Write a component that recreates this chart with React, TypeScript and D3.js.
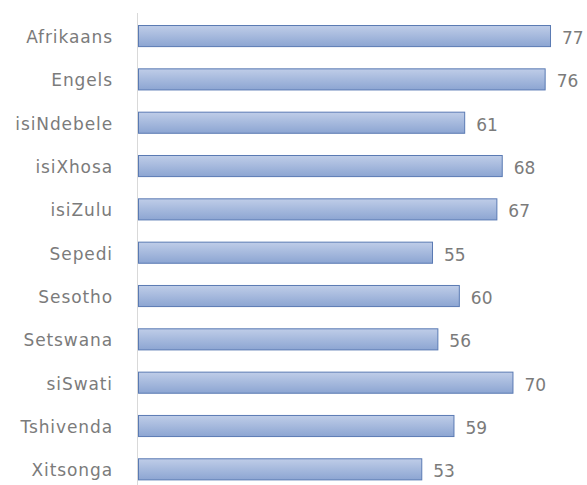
import React from "react";
import * as d3 from "d3";

const categories = ["Afrikaans", "Engels", "isiNdebele", "isiXhosa", "isiZulu", "Sepedi", "Sesotho", "Setswana", "siSwati", "Tshivenda", "Xitsonga"];
const values = [77, 76, 61, 68, 67, 55, 60, 56, 70, 59, 53];

const W = 587;
const H = 485;

export default function App() {
  const x = d3.scaleLinear().domain([0, 80]).range([138, 567.1]);
  const y = d3.scaleBand<string>().domain(categories).range([14.4, 491]).paddingInner(0.49).paddingOuter(0.245);
  const bw = y.bandwidth();
  const font = "'DejaVu Sans', Verdana, sans-serif";
  return (
    <svg width={W} height={H} style={{ position: "absolute", left: 0, top: 0, background: "#fff" }}>
      <defs>
        <linearGradient id="barGrad" x1="0" y1="0" x2="0" y2="1">
          <stop offset="0%" stopColor="#bfcde8" />
          <stop offset="100%" stopColor="#8ca5d2" />
        </linearGradient>
      </defs>
      <rect x={0} y={0} width={W} height={H} fill="#fff" />
      <line x1={137.5} x2={137.5} y1={13} y2={H} stroke="#d9d9d9" strokeWidth={1} />
      {categories.map((c, i) => {
        const yy = y(c)!;
        const cy = yy + bw / 2;
        return (
          <g key={c}>
            <rect x={x(0) + 0.5} y={yy + 0.5} width={x(values[i]) - x(0) - 1} height={bw - 1} fill="url(#barGrad)" stroke="#5a7ab3" strokeWidth={1} />
            <text x={113} y={cy + 1} textAnchor="end" dominantBaseline="central" fontFamily={font} fontSize={17} fill="#7b7b7b" letterSpacing={0.9}>
              {c}
            </text>
            <text x={x(values[i]) + 11} y={cy + 2} dominantBaseline="central" fontFamily={font} fontSize={17} fill="#7b7b7b">
              {values[i]}
            </text>
          </g>
        );
      })}
    </svg>
  );
}
